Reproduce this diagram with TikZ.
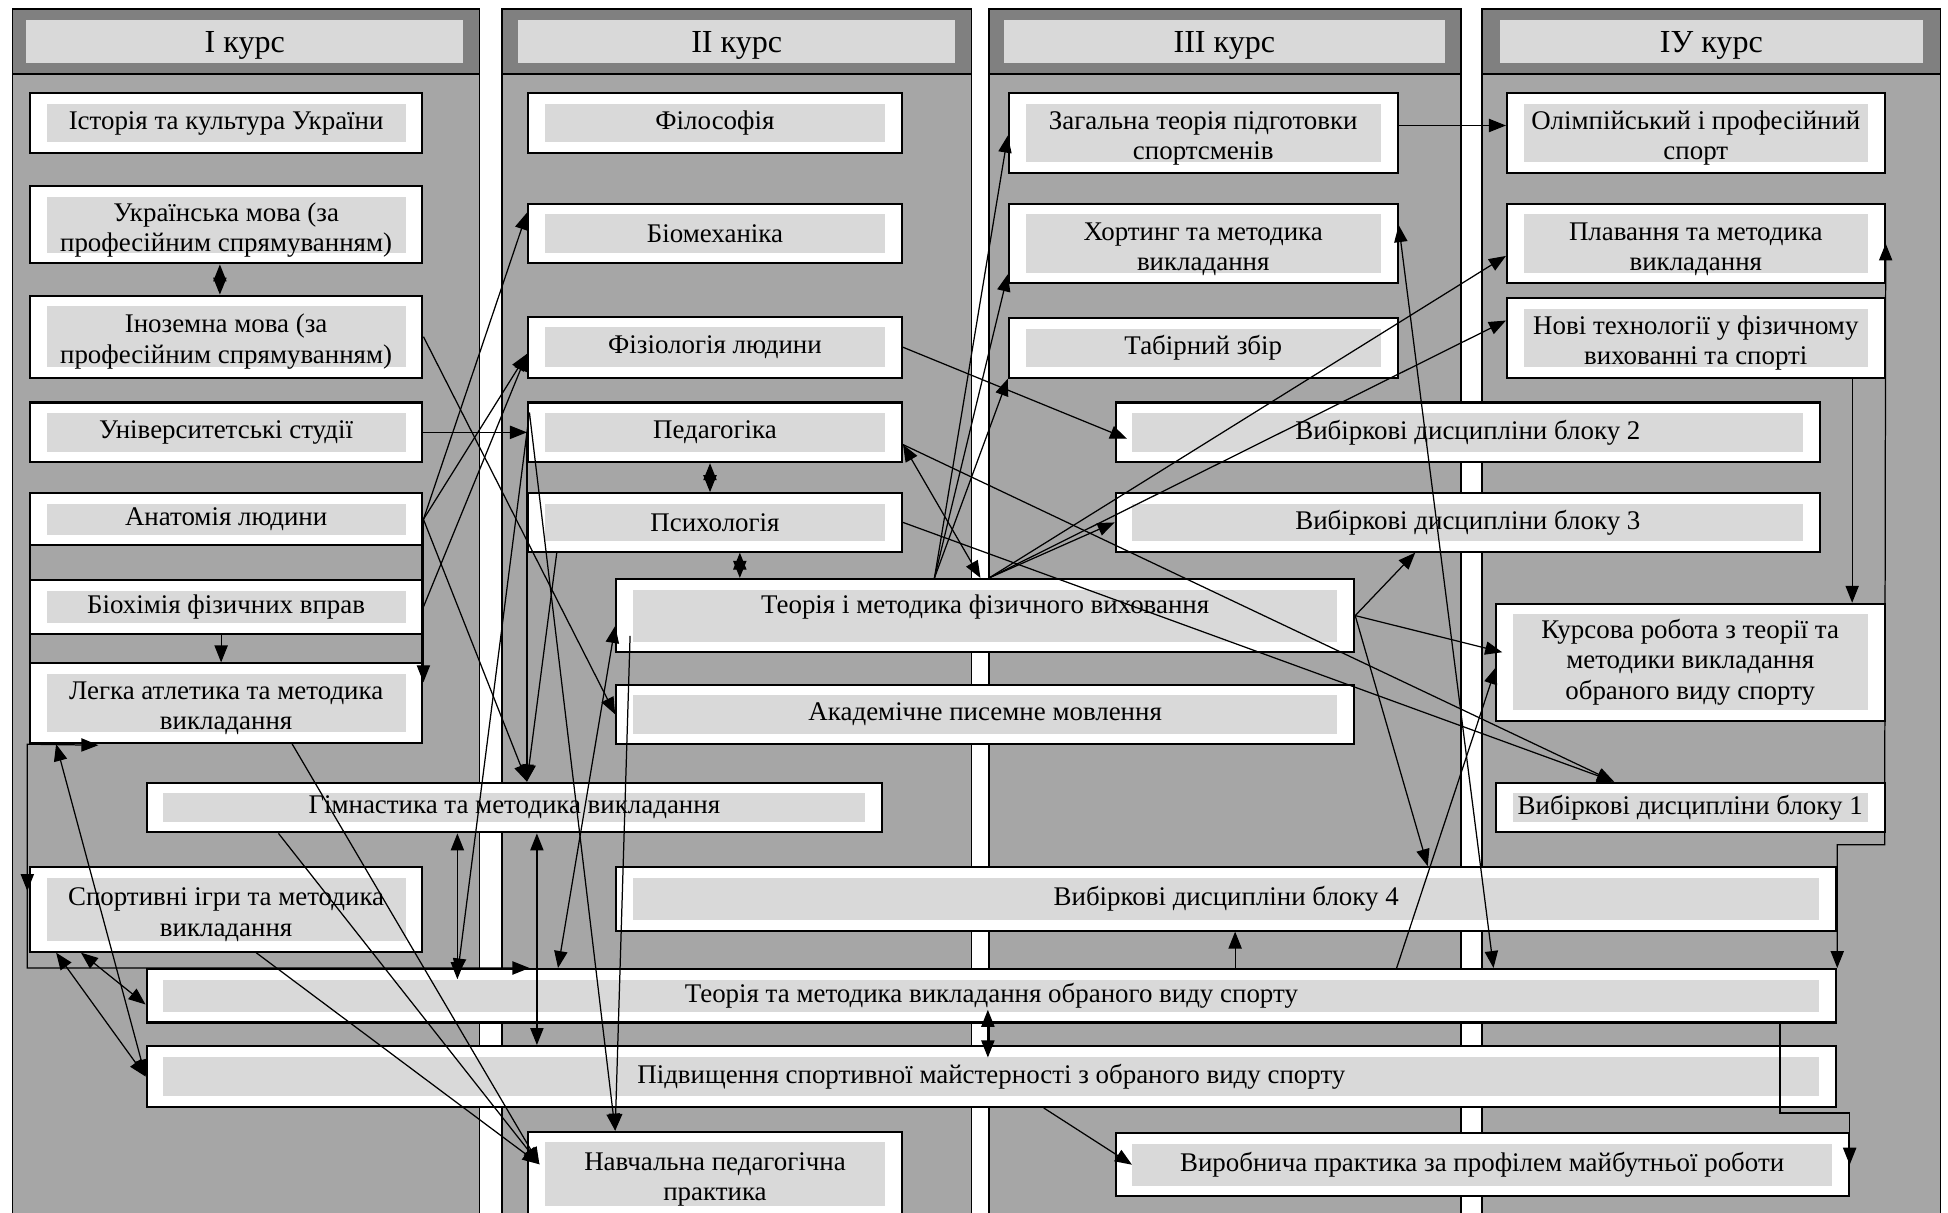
\documentclass[tikz,border=0pt]{standalone}
\usepackage{fontspec}
\setmainfont{Liberation Serif}
\usetikzlibrary{arrows.meta,calc}
\definecolor{colgray}{RGB}{166,166,166}
\definecolor{headgray}{RGB}{128,128,128}
\definecolor{cellgray}{RGB}{217,217,217}
\newcommand{\topgap}{\rule{0pt}{13.8pt}}
\tikzset{
  boxat/.style args = {#1/#2/#3/#4}{minimum width={(#3-#1)*0.6pt},
                minimum height={(#4-#2)*0.6pt},
                at={({(#1+#3)/2},{(#2+#4)/2})}},
  disc/.style = {rectangle, draw, line width=1pt, fill=white,
                inner sep=0pt, align=center,
                font=\fontsize{13}{14.6}\selectfont,
                path picture={\fill[cellgray]
                  ([shift={(8.1pt,-5.1pt)}]path picture bounding box.north west) rectangle
                  ([shift={(-8.1pt,5.1pt)}]path picture bounding box.south east);}},
  head/.style = {rectangle, fill=cellgray, inner sep=0pt, text depth=0pt,
                font=\fontsize{15.5}{18}\selectfont},
  arr/.style  = {-{Triangle[length=8.2pt,width=6.4pt]}, line width=0.6pt},
  twoway/.style = {{Triangle[length=8.2pt,width=6.4pt]}-{Triangle[length=8.2pt,width=6.4pt]}, line width=0.6pt}
}
\begin{document}
\begin{tikzpicture}[x=0.6pt, y=-0.6pt]
    \useasboundingbox (0,0) rectangle (1568,976);
    \fill[white] (0,0) rectangle (1568,976);
    % course columns
    \foreach \xa/\xb in {10/386, 404/782, 796/1176, 1193/1562}{
      \fill[colgray] (\xa,7.5) rectangle (\xb,990);
      \fill[headgray] (\xa,7.5) rectangle (\xb,59.6);
      \draw[line width=0.8pt] (\xa,990) -- (\xa,7.5) -- (\xb,7.5) -- (\xb,990);
      \draw[line width=0.8pt] (\xa,59.6) -- (\xb,59.6);
    }
    \node[head, boxat=21/16/373/51]    (k1) {І курс};
    \node[head, boxat=417/16/769/51]   (k2) {ІІ курс};
    \node[head, boxat=808/16/1163/51]  (k3) {ІІІ курс};
    \node[head, boxat=1207/16/1548/51] (k4) {ІУ курс};
    \draw[line width=1pt, fill=colgray] (24,397) rectangle (340,598);

    % I курс
    \node[disc, boxat=24/75/340/123]  (ist)   {Історія та культура України};
    \node[disc, boxat=24/150/340/212] (ukr)   {\topgap Українська мова (за\\професійним спрямуванням)};
    \node[disc, boxat=24/238/340/304] (ino)   {\topgap Іноземна мова (за\\професійним спрямуванням)};
    \node[disc, boxat=24/324/340/372] (univ)  {Університетські студії};
    \node[disc, boxat=24/397/340/439] (anat)  {Анатомія людини};
    \node[disc, boxat=24/467/340/510] (bioch) {Біохімія фізичних вправ};
    \node[disc, boxat=24/534/340/598] (legka) {\topgap Легка атлетика та методика\\викладання};
    \node[disc, boxat=24/698/340/766] (sport) {\topgap Спортивні ігри та методика\\викладання};

    % II курс
    \node[disc, boxat=425/75/726/123]  (fil)  {Філософія};
    \node[disc, boxat=425/164/726/212] (biom) {Біомеханіка};
    \node[disc, boxat=425/255/726/304] (fiz)  {Фізіологія людини};
    \node[disc, boxat=425/324/726/372] (ped)  {Педагогіка};
    \node[disc, boxat=425/397/726/444] (psy)  {Психологія};
    \node[disc, boxat=496/466/1090/525] (tmfv)
      {\raisebox{3.9pt}[\height][\depth]{Теорія і методика фізичного виховання}};
    \node[disc, boxat=496/551/1090/599] (akad) {Академічне писемне мовлення};
    \node[disc, boxat=118/630/710/670]  (gimn) {Гімнастика та методика викладання};
    \node[disc, boxat=425/911/726/979]  (nav)  {\topgap Навчальна педагогічна\\практика};

    % III курс
    \node[disc, boxat=812/75/1125/139]  (zag)  {\topgap Загальна теорія підготовки\\спортсменів};
    \node[disc, boxat=812/164/1125/228] (hort) {\topgap Хортинг та методика\\викладання};
    \node[disc, boxat=812/256/1125/304] (tab)  {Табірний збір};
    \node[disc, boxat=898/324/1465/372] (vyb2) {Вибіркові дисципліни блоку 2};
    \node[disc, boxat=898/397/1465/444] (vyb3) {Вибіркові дисципліни блоку 3};
    \node[disc, boxat=496/698/1478/749] (vyb4) {Вибіркові дисципліни блоку 4};

    % IV курс
    \node[disc, boxat=1213/75/1517/139]  (olimp) {\topgap Олімпійський і професійний\\спорт};
    \node[disc, boxat=1213/164/1517/228] (plav)  {\topgap Плавання та методика\\викладання};
    \node[disc, boxat=1213/240/1517/304] (nove)  {\topgap Нові технології у фізичному\\вихованні та спорті};
    \node[disc, boxat=1204/486/1517/580] (kurs)  {Курсова робота з теорії та\\методики викладання\\обраного виду спорту};
    \node[disc, boxat=1204/630/1517/670] (vyb1)  {Вибіркові дисципліни блоку 1};

    % through all courses
    \node[disc, boxat=118/780/1478/823] (tmv)   {Теорія та методика викладання обраного виду спорту};
    \node[disc, boxat=118/842/1478/891] (psm)   {Підвищення спортивної майстерності з обраного виду спорту};
    \node[disc, boxat=898/912/1488/963] (vyrob) {Виробнича практика за профілем майбутньої роботи};

    % links from course I
    \draw[twoway] ([shift={(-5,0)}]ukr.south) -- ([shift={(-5,0)}]ino.north);
    \draw[arr] (ino.east) -- (akad.west);
    \draw[arr] (univ.east) -- (ped.west);
    \draw[arr] (anat.east) -- ([shift={(0,8)}]biom.north west);
    \draw[arr] (anat.east) -- ([shift={(0,-20)}]fiz.south west);
    \draw[arr] (bioch.east) -- ([shift={(0,-20)}]fiz.south west);
    \draw[arr] (anat.east) -- ([shift={(0,16)}]legka.north east);
    \draw[arr] (anat.east) -- ([shift={(307,0)}]gimn.north west);
    \draw[arr] ([shift={(-4,0)}]bioch.south) -- ([shift={(-4,0)}]legka.north);
    \coordinate (lbend) at (22,599);
    \draw[twoway] ([shift={(56,1)}]legka.south west) -- (lbend) |- ([shift={(309,0)}]tmv.north west);
    \draw[arr] (lbend) -- ([yshift=-12pt]lbend |- sport.north);
    \draw[arr] ([shift={(212,0)}]legka.south west) -- ([shift={(10,27)}]nav.north west);
    \draw[arr] ([shift={(107,0)}]gimn.south west) -- ([shift={(10,27)}]nav.north west);
    \draw[arr] ([shift={(183,0)}]sport.south west) -- ([shift={(10,27)}]nav.north west);
    \draw[twoway] ([shift={(22,0)}]legka.south west) -- (psm.west);
    \draw[twoway] ([shift={(22,0)}]sport.south west) -- (psm.west);
    \draw[twoway] ([shift={(42,0)}]sport.south west) -- ([shift={(0,7)}]tmv.west);

    % links from course II
    \draw[arr] (ped.west) -- ([shift={(307,0)}]gimn.north west);
    \draw[arr] ([shift={(24,0)}]psy.south west) -- ([shift={(307,0)}]gimn.north west);
    \draw[arr] ([shift={(2,9)}]ped.north west) -- ([shift={(251,6)}]tmv.north west);
    \draw[arr] ([shift={(2,9)}]ped.north west) -- ([shift={(71,0)}]nav.north west);
    \draw[arr] ([shift={(12,-14)}]tmfv.south west) -- ([shift={(71,0)}]nav.north west);
    \draw[twoway] ([shift={(0,-22)}]tmfv.south west) -- ([shift={(332,0)}]tmv.north west);
    \draw[twoway] ([shift={(251,0)}]gimn.south west) -- ([shift={(251,9)}]tmv.north west);
    \draw[twoway] ([shift={(315,0)}]gimn.south west) -- ([shift={(315,0)}]psm.north west);
    \draw[twoway] ([shift={(-4,0)}]ped.south) -- ([shift={(-4,0)}]psy.north);
    \draw[twoway] ([shift={(20,0)}]psy.south) -- ([shift={(20,0)}]psy.south |- tmfv.north);
    \draw[arr] (fiz.east) -- ([shift={(10,30)}]vyb2.north west);
    \draw[twoway] ([shift={(0,-15)}]ped.south east) -- ([shift={(294,0)}]tmfv.north west);
    \draw[arr] ([shift={(0,-15)}]ped.south east) -- ([shift={(96,0)}]vyb1.north west);
    \draw[arr] (psy.east) -- ([shift={(96,0)}]vyb1.north west);
    \draw[arr] ([shift={(257,0)}]tmfv.north west) -- ([shift={(0,35)}]zag.north west);
    \draw[arr] ([shift={(257,0)}]tmfv.north west) -- ([shift={(0,-8)}]hort.south west);
    \draw[arr] ([shift={(257,0)}]tmfv.north west) -- (tab.south west);
    \draw[arr] ([shift={(301,0)}]tmfv.north west) -- (vyb3.west);
    \draw[arr] ([shift={(301,0)}]tmfv.north west) -- ([shift={(0,10)}]plav.west);
    \draw[arr] ([shift={(301,0)}]tmfv.north west) -- ([shift={(0,-14)}]nove.west);
    \draw[arr] (tmfv.east) -- ([shift={(242,0)}]vyb3.south west);
    \draw[arr] (tmfv.east) -- ([shift={(6,-8)}]kurs.west);
    \draw[arr] (tmfv.east) -- ([shift={(654,0)}]vyb4.north west);

    % links from courses III and IV
    \draw[arr] ([shift={(0,-6)}]zag.east) -- ([shift={(0,-6)}]olimp.west);
    \draw[twoway] ([shift={(0,18)}]hort.north east) -- ([shift={(1085,0)}]tmv.north west);
    \draw[arr] ([shift={(1007,0)}]tmv.north west) -- ([shift={(1,4)}]kurs.west);
    \draw[arr] ([shift={(877,0)}]tmv.north west) -- ([shift={(499,0)}]vyb4.south west);
    \draw[twoway] ([shift={(678,-11)}]tmv.south west) -- ([shift={(678,10)}]psm.north west);
    \draw[arr] ([shift={(723,0)}]psm.south west) -- ([shift={(14,0)}]vyrob.west);
    \draw[arr] ([shift={(-27,0)}]nove.south east) -- ([shift={(-27,0)}]kurs.north east);
    \coordinate (rbend) at (1517,680);
    \draw[twoway] (plav.east) -- (rbend) -| (tmv.north east);
    \draw[arr] ([shift={(-46,0)}]tmv.south east) -- ++(0,72) -| (vyrob.east);
\end{tikzpicture}
\end{document}
